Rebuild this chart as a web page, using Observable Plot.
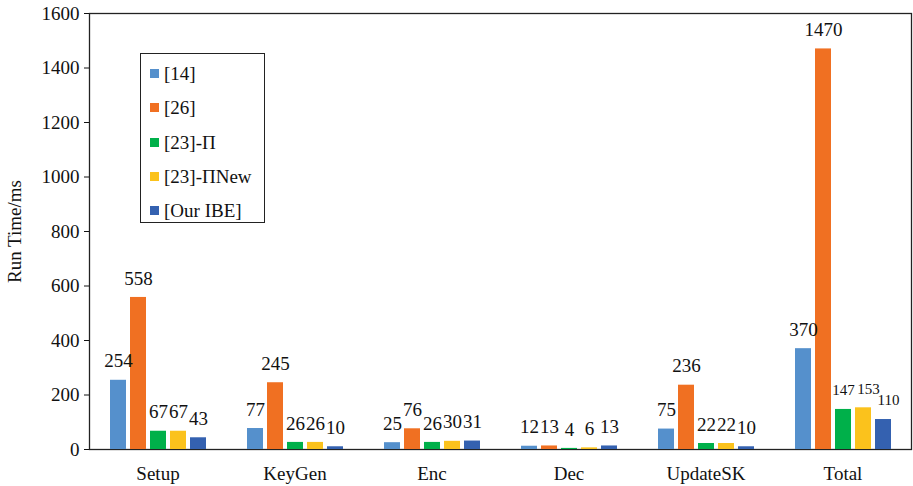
<!DOCTYPE html>
<html>
<head>
<meta charset="utf-8">
<script src="https://cdn.jsdelivr.net/npm/d3@7"></script>
<script src="https://cdn.jsdelivr.net/npm/@observablehq/plot@0.6"></script>
<style>
  body { margin: 0; background: #fff; }
  #wrap { position: relative; width: 913px; height: 486px; font-family: "Liberation Serif", "Times New Roman", serif; }
  #wrap svg, #wrap svg text { font-family: "Liberation Serif", "Times New Roman", serif !important; }
  #legend { position: absolute; left: 140px; top: 53px; width: 123px; height: 168px; border: 1px solid #222; background: #fff; box-sizing: content-box; }
  #legend .item { position: absolute; left: 9px; display: flex; align-items: center; font-size: 19px; color: #111; white-space: nowrap; line-height: 1; }
  #legend .sw { width: 9px; height: 9px; margin-right: 5px; }
</style>
</head>
<body>
<div id="wrap"></div>
<script>
// Operations on the x axis and the five compared schemes
const ops = ["Setup", "KeyGen", "Enc", "Dec", "UpdateSK", "Total"];
const schemes = ["[14]", "[26]", "[23]-Π", "[23]-ΠNew", "[Our IBE]"];

// Run time (ms) of each scheme per operation
const v14 = [254, 77, 25, 12, 75, 370];
const v26 = [558, 245, 76, 13, 236, 1470];
const v23 = [67, 26, 26, 4, 22, 147];
const v23New = [67, 26, 30, 6, 22, 153];
const vOur = [43, 10, 31, 13, 10, 110];

const yTicks = [0, 200, 400, 600, 800, 1000, 1200, 1400, 1600];
const colors = ["#5590CC", "#F07022", "#00B04A", "#FBC21C", "#3461B0"];

const serif = "'Liberation Serif', 'Times New Roman', serif";

const series = [v14, v26, v23, v23New, vOur];
const data = [];
ops.forEach((op, i) => {
  schemes.forEach((s, j) => data.push({op, scheme: s, value: series[j][i]}));
});

// The last two small labels of "Total" are nudged right so they don't collide
const nudged = d => d.op === "Total" && (d.scheme === "[23]-ΠNew" || d.scheme === "[Our IBE]");
const small = d => d.op === "Total" && d.value < 200;

const labelOptions = {
  fx: "op", x: "scheme", y: "value", text: d => String(d.value),
  dy: -19, fontFamily: serif, fill: "#111",
  fontSize: d => (small(d) ? 15 : 19)
};

const chart = Plot.plot({
  width: 913,
  height: 486,
  marginLeft: 88,
  marginRight: 2,
  marginTop: 13,
  marginBottom: 37,
  style: {fontFamily: serif, fontSize: "19px", color: "#111", background: "#fff"},
  // facets fill the whole width; bars are kept to the middle of each facet
  fx: {domain: ops, padding: 0, label: null, tickSize: 0, tickPadding: 17},
  x: {domain: schemes, paddingInner: 0.22, paddingOuter: 0.95, axis: null},
  y: {domain: [0, 1600], axis: null},
  color: {domain: schemes, range: colors},
  marks: [
    Plot.frame({facet: "super", stroke: "#222", strokeWidth: 1.3}),
    Plot.axisY({ticks: yTicks, tickSize: 5, tickPadding: 5, tickFormat: d => String(d),
      label: "Run Time/ms", labelAnchor: "center", labelArrow: "none", labelOffset: 82}),
    Plot.barY(data, {fx: "op", x: "scheme", y: "value", fill: "scheme"}),
    Plot.text(data.filter(d => !nudged(d)), labelOptions),
    Plot.text(data.filter(nudged), {...labelOptions, dx: 5})
  ]
});

document.getElementById("wrap").appendChild(chart);

// Legend box inside the plot area
const legend = document.createElement("div");
legend.id = "legend";
const color = chart.scale("color");
schemes.forEach((s, i) => {
  const item = document.createElement("div");
  item.className = "item";
  item.style.top = (10 + i * 34.3) + "px";
  const sw = document.createElement("span");
  sw.className = "sw";
  sw.style.background = color.apply(s);
  const t = document.createElement("span");
  t.textContent = s;
  item.appendChild(sw);
  item.appendChild(t);
  legend.appendChild(item);
});
document.getElementById("wrap").appendChild(legend);
</script>
</body>
</html>
